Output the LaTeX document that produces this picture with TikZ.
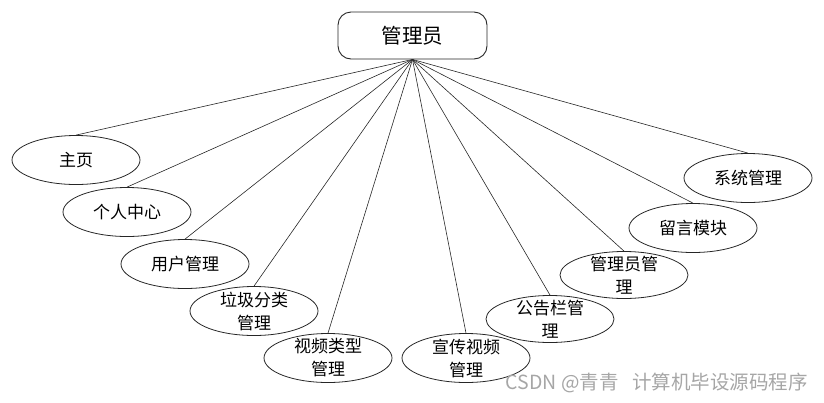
\documentclass[tikz,border=0pt]{standalone}
\usepackage{fontspec}
\setmainfont{Noto Sans CJK SC}
\usetikzlibrary{shapes.geometric}
\begin{document}
\begin{tikzpicture}[x=1pt,y=-1pt,
  rootbox/.style={draw=black!85,line width=0.9pt,rounded corners=13pt,minimum width=149pt,minimum height=47pt,inner sep=0pt,font=\fontsize{20.5}{24}\selectfont},
  oval/.style={draw=black!85,line width=0.8pt,ellipse,minimum width=128pt,minimum height=49pt,inner sep=0pt},
  otext/.style={font=\fontsize{17}{23}\selectfont,align=center,inner sep=0pt},
  link/.style={draw=black!85,line width=0.6pt}]
\useasboundingbox (0,0) rectangle (824,402);
\node[rootbox] (root) at (412.5,35.5) {管理员};
\node[oval,label={[otext]center:主页}] (n1) at (76,160) {};
\node[oval,label={[otext]center:个人中心}] (n2) at (127,212) {};
\node[oval,label={[otext]center:用户管理}] (n3) at (185,264) {};
\node[oval,label={[otext]center:垃圾分类\\管理}] (n4) at (254,311) {};
\node[oval,label={[otext]center:视频类型\\管理}] (n5) at (328,358) {};
\node[oval,label={[otext]center:宣传视频\\管理}] (n6) at (466,358) {};
\node[oval,minimum height=47pt,label={[otext]center:公告栏管\\理}] (n7) at (550,319) {};
\node[oval,minimum height=47pt,label={[otext]center:管理员管\\理}] (n8) at (624,275) {};
\node[oval,label={[otext]center:留言模块}] (n9) at (693,228) {};
\node[oval,label={[otext]center:系统管理}] (n10) at (748,178) {};
\foreach \n in {n1,n2,n3,n4,n5,n6,n7,n8,n9,n10}
  \draw[link] (root.south) -- (\n.north);
\node[font=\fontsize{19.5}{22}\selectfont,text=black!35,anchor=east,inner sep=0pt] (wm) at (808,383) {CSDN @青青\hspace{0.7em}计算机毕设源码程序};
\end{tikzpicture}
\end{document}
